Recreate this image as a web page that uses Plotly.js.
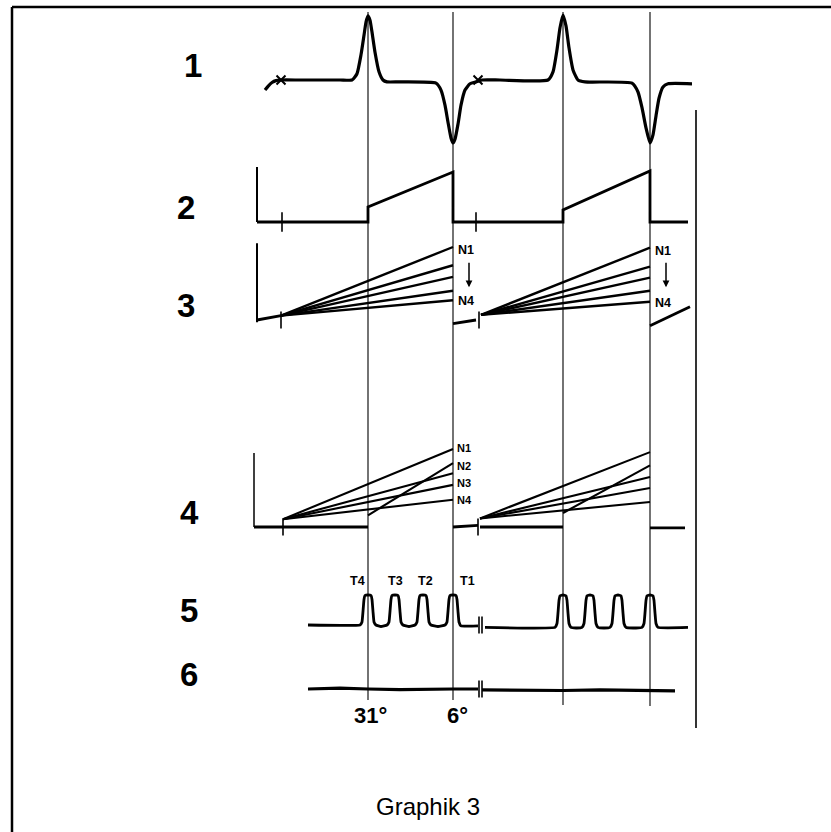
<!DOCTYPE html>
<html><head><meta charset="utf-8">
<script src="https://cdn.plot.ly/plotly-3.0.1.min.js"></script>
<style>html,body{margin:0;padding:0;background:#fff}#chart{width:831px;height:832px}</style>
</head><body><div id="chart"></div>
<script>
// ================= DATA =================
const rowLabels = ['1', '2', '3', '4', '5', '6'];
const markerTimes = [368, 453, 563, 650];          // vertical reference instants
const angleLabels = ['31°', '6°'];
const captionText = 'Graphik 3';

// Signal 1
const s1Time = [265, 268, 272, 276, 281, 300, 340, 352, 357, 361, 364, 366, 368, 370, 372, 375, 379, 383, 387, 400,
  436, 441, 445, 448, 451, 453, 455, 458, 461, 465, 470, 476, 482, 500, 548, 553, 557, 560, 563, 566,
  569, 573, 578, 585, 632, 638, 642, 646, 650, 653, 656, 659, 663, 668, 692];
const s1Value = [-0.16, -0.10, -0.04, -0.01, 0, 0, 0, 0, 0.10, 0.40, 0.71, 0.92, 1.02, 0.95, 0.76, 0.44, 0.13, 0, -0.03, -0.03,
  -0.05, -0.16, -0.40, -0.67, -0.92, -1.0, -0.94, -0.70, -0.40, -0.16, -0.06, -0.03, 0, 0, 0, 0.13, 0.48, 0.83, 1.03, 0.86,
  0.51, 0.16, 0, -0.03, -0.05, -0.19, -0.44, -0.76, -1.0, -0.87, -0.57, -0.29, -0.11, -0.06, -0.06];
const s1BreakTime = [281, 478];

// Signal 2
const s2Time = [257, 368, 368, 453, 453, 563, 563, 650, 650, 688];
const s2Value = [0, 0, 0.30, 1.00, 0, 0, 0.24, 1.02, 0, 0];
const s2BreakTime = [282, 476];
const s2AxisTime = [257, 257];
const s2AxisValue = [0, 1.1];

// Signal 3
const s3BaseTime = [257, 281, null, 453, 476, null, 650, 690];
const s3BaseValue = [0, 0.06, null, -0.05, 0, null, -0.08, 0.18];
const s3FanStartTime = [281, 481];
const s3FanStartValue = [0.06, 0.07];
const s3FanEndTime = [453, 650];
const s3FanEnd1 = [1.00, 0.75, 0.59, 0.40, 0.27];
const s3FanEnd2 = [0.99, 0.73, 0.58, 0.40, 0.25];
const s3BreakTime = [281, 479];
const s3AxisTime = [257, 257];
const s3AxisValue = [-0.03, 1.05];
const s3Labels = ['N1', 'N4'];

// Signal 4
const s4BaseTime = [254, 368, null, 453, 478, null, 480, 563, null, 650, 685];
const s4BaseValue = [0, 0, null, 0, 0.02, null, 0, 0, null, -0.01, -0.01];
const s4FanStartTime = [283, 480];
const s4FanStartValue = [0.10, 0.11];
const s4FanEndTime = [453, 650];
const s4FanEnd1 = [1.00, 0.69, 0.54, 0.35];
const s4FanEnd2 = [0.96, 0.64, 0.50, 0.32];
const s4StepStartTime = [368, 563];
const s4StepStartValue = [0.15, 0.18];
const s4StepEndValue = [0.82, 0.79];
const s4BreakTime = [283, 478];
const s4AxisTime = [254, 254];
const s4AxisValue = [0, 0.95];
const s4Labels = ['N1', 'N2', 'N3', 'N4'];

// Signal 5 (pulses)
const s5Time = [308, 360, 362, 363, 364, 365, 368, 371, 372, 373, 374, 376, 381,
  387, 389, 390, 391, 392, 395, 398, 399, 400, 401, 403, 409,
  415, 417, 418, 419, 420, 423, 426, 427, 428, 429, 431, 438,
  445, 447, 448, 449, 450, 453, 456, 457, 458, 459, 461, 478, null,
  485, 555, 557, 558, 559, 560, 563, 566, 567, 568, 569, 571, 576,
  582, 584, 585, 586, 587, 590, 593, 594, 595, 596, 598, 604,
  610, 612, 613, 614, 615, 618, 621, 622, 623, 624, 626, 636,
  642, 644, 645, 646, 647, 650, 653, 654, 655, 656, 658, 688];
const s5Value = [0, 0, 0.1, 0.45, 0.85, 0.98, 1.0, 0.98, 0.85, 0.45, 0.1, 0, -0.05,
  0, 0.1, 0.45, 0.85, 0.98, 1.0, 0.98, 0.85, 0.45, 0.1, 0, -0.05,
  0, 0.1, 0.45, 0.85, 0.98, 1.0, 0.98, 0.85, 0.45, 0.1, 0, -0.05,
  0, 0.1, 0.45, 0.85, 0.98, 1.0, 0.98, 0.85, 0.45, 0.1, -0.03, -0.03, null,
  -0.08, -0.08, 0.05, 0.4, 0.82, 0.97, 1.0, 0.97, 0.82, 0.4, 0.05, -0.08, -0.1,
  -0.08, 0.05, 0.4, 0.82, 0.97, 1.0, 0.97, 0.82, 0.4, 0.05, -0.08, -0.1,
  -0.08, 0.05, 0.4, 0.82, 0.97, 1.0, 0.97, 0.82, 0.4, 0.05, -0.08, -0.1,
  -0.08, 0.05, 0.4, 0.82, 0.97, 1.0, 0.97, 0.82, 0.4, 0.05, -0.08, -0.08];
const s5BreakTime = [479, 482];
const s5Labels = ['T4', 'T3', 'T2', 'T1'];
const s5LabelTime = [368, 395, 423, 453];

// Signal 6
const s6Time = [308, 340, 368, 400, 453, 478, null, 482, 520, 563, 600, 650, 675];
const s6Value = [0, 0.03, 0, -0.02, 0, 0, null, -0.03, -0.05, -0.05, -0.03, -0.06, -0.06];
const s6BreakTime = [479, 482];

// ================= LAYOUT HELPERS =================
const W = 831, H = 832;
// panel baseline (px from top) and pixel height of one unit
const panels = [
  {base: 80, unit: 63}, {base: 222, unit: 50}, {base: 320, unit: 73},
  {base: 527, unit: 78}, {base: 625, unit: 30}, {base: 689, unit: 30}
];
function yRange(p) { return [(p.base - H) / p.unit, p.base / p.unit]; }
const yNames = ['y', 'y2', 'y3', 'y4', 'y5', 'y6'];

function fan(startT, startV, endT, ends) {
  const x = [], y = [];
  ends.forEach(e => { x.push(startT, endT, null); y.push(startV, e, null); });
  return {x, y};
}
function line(x, y, yaxis, w, extra) {
  return Object.assign({type: 'scatter', mode: 'lines', x, y, yaxis, xaxis: 'x',
    line: {color: '#000', width: w}, hoverinfo: 'skip', showlegend: false}, extra || {});
}
function breaks(x, yaxis, size) {
  return {type: 'scatter', mode: 'markers', x, y: x.map(() => 0), yaxis, xaxis: 'x',
    marker: {symbol: 'line-ns', size: size, line: {color: '#000', width: 1.6}},
    hoverinfo: 'skip', showlegend: false};
}

const traces = [];
// 1
traces.push(line(s1Time, s1Value, 'y', 3, {line: {color: '#000', width: 3.2, shape: 'spline', smoothing: 0.5}}));
traces.push({type: 'scatter', mode: 'markers', x: s1BreakTime, y: s1BreakTime.map(() => 0), yaxis: 'y', xaxis: 'x',
  marker: {symbol: 'x-thin', size: 9, line: {color: '#000', width: 2}}, hoverinfo: 'skip', showlegend: false});
// 2
traces.push(line(s2Time, s2Value, 'y2', 2.8));
traces.push(line(s2AxisTime, s2AxisValue, 'y2', 2));
traces.push(breaks(s2BreakTime, 'y2', 14));
// 3
traces.push(line(s3BaseTime, s3BaseValue, 'y3', 2.8));
traces.push(line(s3AxisTime, s3AxisValue, 'y3', 2));
let f = fan(s3FanStartTime[0], s3FanStartValue[0], s3FanEndTime[0], s3FanEnd1);
traces.push(line(f.x, f.y, 'y3', 2.4));
f = fan(s3FanStartTime[1], s3FanStartValue[1], s3FanEndTime[1], s3FanEnd2);
traces.push(line(f.x, f.y, 'y3', 2.4));
traces.push(breaks(s3BreakTime, 'y3', 12));
// 4
traces.push(line(s4BaseTime, s4BaseValue, 'y4', 2.8));
traces.push(line(s4AxisTime, s4AxisValue, 'y4', 1.5));
f = fan(s4FanStartTime[0], s4FanStartValue[0], s4FanEndTime[0], s4FanEnd1);
traces.push(line(f.x, f.y, 'y4', 2.1));
f = fan(s4FanStartTime[1], s4FanStartValue[1], s4FanEndTime[1], s4FanEnd2);
traces.push(line(f.x, f.y, 'y4', 2.1));
traces.push(line([s4StepStartTime[0], s4FanEndTime[0], null, s4StepStartTime[1], s4FanEndTime[1]],
  [s4StepStartValue[0], s4StepEndValue[0], null, s4StepStartValue[1], s4StepEndValue[1]], 'y4', 2.1));
traces.push(breaks(s4BreakTime, 'y4', 12));
// 5
traces.push(line(s5Time, s5Value, 'y5', 2.8, {line: {color: '#000', width: 2.8, shape: 'spline', smoothing: 0.3}}));
traces.push(breaks(s5BreakTime, 'y5', 12));
// 6
traces.push(line(s6Time, s6Value, 'y6', 3.2));
traces.push(breaks(s6BreakTime, 'y6', 12));

// ================= LAYOUT =================
const layout = {
  width: W, height: H,
  margin: {l: 0, r: 0, t: 0, b: 0},
  paper_bgcolor: '#fff', plot_bgcolor: 'rgba(0,0,0,0)',
  showlegend: false,
  xaxis: {range: [0, W], domain: [0, 1], visible: false, fixedrange: true},
  shapes: [], annotations: []
};
panels.forEach((p, i) => {
  const key = i === 0 ? 'yaxis' : 'yaxis' + (i + 1);
  layout[key] = {range: yRange(p), domain: [0, 1], visible: false, fixedrange: true};
  if (i > 0) layout[key].overlaying = 'y';
});

// frame (top and left edges visible)
layout.shapes.push({type: 'line', xref: 'paper', yref: 'paper', x0: 12 / W, x1: 1.01, y0: 1 - 7 / H, y1: 1 - 7 / H, line: {color: '#000', width: 2.5}});
layout.shapes.push({type: 'line', xref: 'paper', yref: 'paper', x0: 12 / W, x1: 12 / W, y0: 1 - 7 / H, y1: -0.01, line: {color: '#000', width: 2.5}});
// vertical reference lines
const vBottom = [700, 700, 705, 706];
markerTimes.forEach((t, i) => {
  layout.shapes.push({type: 'line', xref: 'x', yref: 'paper', x0: t, x1: t, y0: 1 - vBottom[i] / H, y1: 1 - 12 / H,
    line: {color: '#000', width: 1.1}});
});
// right border line
layout.shapes.push({type: 'line', xref: 'x', yref: 'paper', x0: 696, x1: 696, y0: 1 - 728 / H, y1: 1 - 110 / H, line: {color: '#000', width: 1.6}});

// row labels
const rowLabelX = [193, 186, 186, 189, 189, 189];
rowLabels.forEach((t, i) => {
  layout.annotations.push({text: '<b>' + t + '</b>', xref: 'paper', yref: yNames[i], x: rowLabelX[i] / W, y: 0,
    yshift: 15, showarrow: false, xanchor: 'center', yanchor: 'middle',
    font: {family: 'Liberation Sans, Arial', size: 33, color: '#000'}});
});
const smallFont = {family: 'Liberation Sans, Arial', size: 12.5, color: '#000'};
const tinyFont = {family: 'Liberation Sans, Arial', size: 11, color: '#000'};
// signal 3 labels
[[0, s3FanEnd1], [1, s3FanEnd2]].forEach(([k, ends]) => {
  const t = s3FanEndTime[k];
  layout.annotations.push({text: '<b>' + s3Labels[0] + '</b>', xref: 'x', yref: 'y3', x: t + 3, y: ends[0], yshift: -3,
    xanchor: 'left', yanchor: 'middle', showarrow: false, font: smallFont});
  layout.annotations.push({text: '<b>' + s3Labels[1] + '</b>', xref: 'x', yref: 'y3', x: t + 3, y: ends[ends.length - 1], yshift: -1,
    xanchor: 'left', yanchor: 'middle', showarrow: false, font: smallFont});
  layout.annotations.push({text: '', xref: 'x', yref: 'y3', x: t + 16, y: 0.45, ax: 0, ay: -26,
    showarrow: true, arrowhead: 2, arrowsize: 0.9, arrowwidth: 1.5, arrowcolor: '#000'});
});
// signal 4 labels (first cycle only)
const s4Shift = [1, 7, 2, 0];
s4Labels.forEach((t, i) => {
  layout.annotations.push({text: '<b>' + t + '</b>', xref: 'x', yref: 'y4', x: s4FanEndTime[0] + 2, y: s4FanEnd1[i],
    yshift: s4Shift[i], xanchor: 'left', yanchor: 'middle', showarrow: false, font: tinyFont});
});
// signal 5 labels
const tShift = [-11, 0, 2, 14];
s5Labels.forEach((t, i) => {
  layout.annotations.push({text: '<b>' + t + '</b>', xref: 'x', yref: 'y5', x: s5LabelTime[i], y: 1, xshift: tShift[i],
    yshift: 14, xanchor: 'center', yanchor: 'middle', showarrow: false, font: smallFont});
});
// angle labels
angleLabels.forEach((t, i) => {
  layout.annotations.push({text: '<b>' + t + '</b>', xref: 'x', yref: 'y6', x: markerTimes[i], y: 0, xshift: i === 0 ? 2 : 4,
    yshift: -26, xanchor: 'center', yanchor: 'middle', showarrow: false,
    font: {family: 'Liberation Sans, Arial', size: 22, color: '#000'}});
});
// caption
layout.annotations.push({text: captionText, xref: 'paper', yref: 'paper', x: 428 / W, y: 1 - 806 / H,
  xanchor: 'center', yanchor: 'middle', showarrow: false, font: {family: 'Liberation Sans, Arial', size: 24, color: '#000'}});

Plotly.newPlot('chart', traces, layout, {staticPlot: true, displayModeBar: false});
</script>
</body></html>
